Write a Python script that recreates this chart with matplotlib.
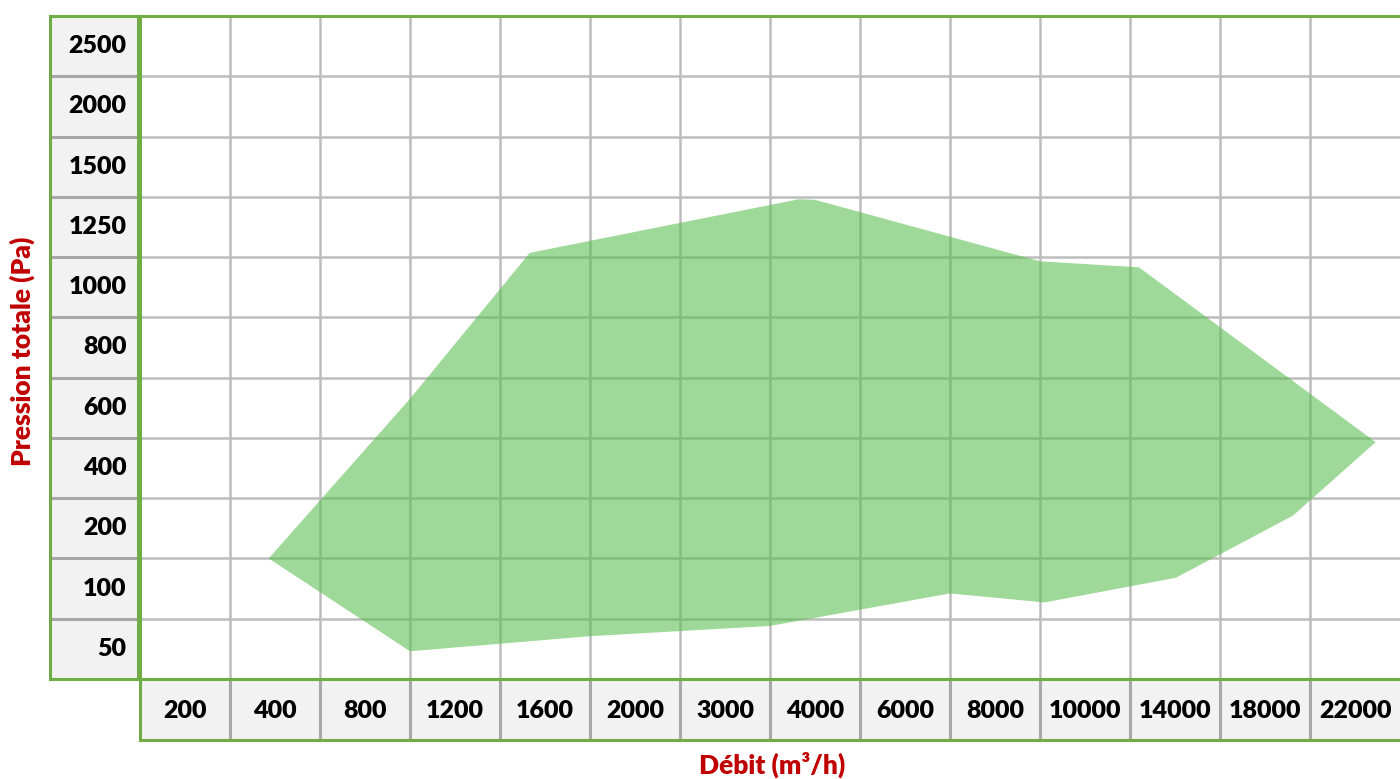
import numpy as np
import matplotlib
matplotlib.use("Agg")
import matplotlib.pyplot as plt
from matplotlib.patches import Polygon

plt.rcParams['font.family'] = ['Lato', 'DejaVu Sans']

# Etiquettes des cases (axes en "tableau", non linéaires)
debit_labels = ["200", "400", "800", "1200", "1600", "2000", "3000", "4000",
                "6000", "8000", "10000", "14000", "18000", "22000"]
pression_labels = ["50", "100", "200", "400", "600", "800", "1000", "1250",
                   "1500", "2000", "2500"]

# Contour de la zone de fonctionnement, en unités de cases (colonne, ligne)
zone_col = [1.43, 3.0, 5.0, 7.0, 9.0, 10.05, 11.51, 12.81, 13.73,
            11.10, 10.0, 7.5, 7.32, 4.33, 3.0]
zone_row = [2.0, 0.46, 0.71, 0.88, 1.42, 1.27, 1.68, 2.71, 3.93,
            6.83, 6.93, 7.95, 7.96, 7.07, 4.65]

VERT = "#70AD47"
GRIS = "#bdbdbd"
ROUGE = "#C00000"
FOND = "#f2f2f2"
POIDS = "heavy"

ncol = len(debit_labels)
nrow = len(pression_labels)

fig = plt.figure(figsize=(14, 7.79), dpi=100)
W, H = 1400, 779
bas = 1 - 679 / H
haut = 1 - 16 / H

# zone principale
ax = fig.add_axes([140 / W, bas, 1 - 140 / W, haut - bas])
ax.set_xlim(0, ncol)
ax.set_ylim(0, nrow)
for i in range(1, ncol):
    ax.axvline(i, color=GRIS, lw=1.8, zorder=1)
for j in range(1, nrow):
    ax.axhline(j, color=GRIS, lw=1.8, zorder=1)
ax.add_patch(Polygon(np.column_stack([zone_col, zone_row]), closed=True,
                     facecolor="#5abe50", alpha=0.58, lw=0, zorder=2))
ax.set_xticks([])
ax.set_yticks([])
for s in ["top", "left", "bottom"]:
    ax.spines[s].set_color(VERT)
    ax.spines[s].set_linewidth(2.2)
ax.spines["right"].set_visible(False)

# colonne des pressions
ax_y = fig.add_axes([50 / W, bas, 88 / W, haut - bas], facecolor=FOND)
ax_y.set_xlim(0, 1)
ax_y.set_ylim(0, nrow)
for j in range(1, nrow):
    ax_y.axhline(j, color="#a8a8a8", lw=2.2)
for j, lab in enumerate(pression_labels):
    ax_y.text(0.87, j + 0.5, lab, ha="right", va="center",
              fontsize=18, fontweight=POIDS)
ax_y.set_xticks([])
ax_y.set_yticks([])
for s in ["top", "left", "bottom", "right"]:
    ax_y.spines[s].set_color(VERT)
    ax_y.spines[s].set_linewidth(2.2)

# ligne des débits
ax_x = fig.add_axes([140 / W, 1 - 740 / H, 1 - 140 / W, 61 / H], facecolor=FOND)
ax_x.set_xlim(0, ncol)
ax_x.set_ylim(0, 1)
for i in range(1, ncol):
    ax_x.axvline(i, color="#a8a8a8", lw=2.2)
for i, lab in enumerate(debit_labels):
    ax_x.text(i + 0.5, 0.48, lab, ha="center", va="center",
              fontsize=18, fontweight=POIDS)
ax_x.set_xticks([])
ax_x.set_yticks([])
for s in ["top", "left", "bottom"]:
    ax_x.spines[s].set_color(VERT)
    ax_x.spines[s].set_linewidth(2.2)
ax_x.spines["right"].set_visible(False)

# titres des axes
fig.text(22 / W, 1 - 351 / H, "Pression totale (Pa)", rotation=90,
         ha="center", va="center", color=ROUGE, fontsize=19, fontweight=POIDS)
fig.text(772 / W, 1 - 765 / H, "Débit (m³/h)", ha="center", va="center",
         color=ROUGE, fontsize=19, fontweight=POIDS)

fig.savefig("out.png", dpi=100)
